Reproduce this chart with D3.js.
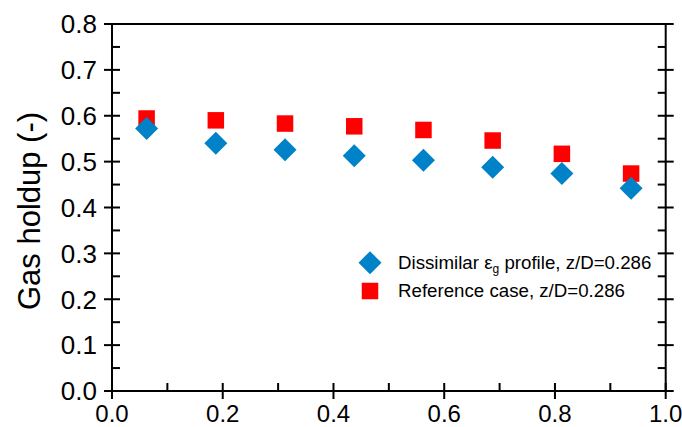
<!DOCTYPE html>
<html><head><meta charset="utf-8">
<script src="https://cdn.jsdelivr.net/npm/d3@7"></script>
<style>html,body{margin:0;padding:0;background:#fff;}svg{display:block;font-family:"Liberation Sans",Arial,sans-serif;}</style>
</head><body>
<svg id="c" width="682" height="427"></svg>
<script>
const xPos = [0.0625, 0.1875, 0.3125, 0.4375, 0.5625, 0.6875, 0.8125, 0.9375];
const dissimilar = [0.572, 0.540, 0.526, 0.513, 0.503, 0.488, 0.474, 0.442];
const reference = [0.594, 0.590, 0.583, 0.577, 0.569, 0.546, 0.517, 0.474];
const xTicks = [0.0, 0.2, 0.4, 0.6, 0.8, 1.0];
const xMinor = [0.1, 0.3, 0.5, 0.7, 0.9];
const yTicks = [0.0, 0.1, 0.2, 0.3, 0.4, 0.5, 0.6, 0.7, 0.8];
const yMinor = [0.05, 0.15, 0.25, 0.35, 0.45, 0.55, 0.65, 0.75];

const svg = d3.select("#c");
const L = 112, R = 665.7, T = 24, B = 391;
const x = d3.scaleLinear().domain([0, 1]).range([L, R]);
const y = d3.scaleLinear().domain([0, 0.8]).range([B, T]);
const tk = 8, lw = 2;
const g = svg.append("g").attr("stroke", "#000").attr("stroke-width", lw).attr("fill", "none");

// frame
g.append("rect").attr("x", L).attr("y", T).attr("width", R - L).attr("height", B - T);

// bottom ticks
xTicks.forEach(v => g.append("line").attr("x1", x(v)).attr("x2", x(v)).attr("y1", B - tk).attr("y2", B + tk));
xMinor.forEach(v => g.append("line").attr("x1", x(v)).attr("x2", x(v)).attr("y1", B - tk).attr("y2", B));
// left & right ticks
yTicks.forEach(v => {
  g.append("line").attr("x1", L - tk).attr("x2", L + tk).attr("y1", y(v)).attr("y2", y(v));
  g.append("line").attr("x1", R - tk).attr("x2", R + tk).attr("y1", y(v)).attr("y2", y(v));
});
yMinor.forEach(v => {
  g.append("line").attr("x1", L).attr("x2", L + tk).attr("y1", y(v)).attr("y2", y(v));
  g.append("line").attr("x1", R - tk).attr("x2", R).attr("y1", y(v)).attr("y2", y(v));
});

// tick labels
svg.append("g").selectAll("text").data(yTicks).join("text")
  .attr("x", 97).attr("y", d => y(d)).attr("dy", "0.36em")
  .attr("text-anchor", "end").attr("font-size", 26).attr("fill", "#000")
  .text(d => d.toFixed(1));
svg.append("g").selectAll("text").data(xTicks).join("text")
  .attr("x", d => x(d)).attr("y", 421.5)
  .attr("text-anchor", "middle").attr("font-size", 24).attr("fill", "#000")
  .text(d => d.toFixed(1));

// y axis title
svg.append("text").attr("transform", "translate(40,211) rotate(-90)")
  .attr("text-anchor", "middle").attr("font-size", 31).attr("fill", "#000")
  .text("Gas holdup (-)");

const blue = "#0082C8", red = "#FF0000";
const sq = 16.5, dh = 11.5;
const diamond = (cx, cy) => `M${cx},${cy - dh}L${cx + dh},${cy}L${cx},${cy + dh}L${cx - dh},${cy}Z`;

// reference squares
svg.append("g").selectAll("rect").data(reference).join("rect")
  .attr("x", (d, i) => x(xPos[i]) - sq / 2).attr("y", d => y(d) - sq / 2)
  .attr("width", sq).attr("height", sq).attr("fill", red);
// dissimilar diamonds
svg.append("g").selectAll("path").data(dissimilar).join("path")
  .attr("d", (d, i) => diamond(x(xPos[i]), y(d))).attr("fill", blue);

// legend
svg.append("path").attr("d", diamond(370, 262.7)).attr("fill", blue);
svg.append("rect").attr("x", 370 - sq / 2).attr("y", 291 - sq / 2).attr("width", sq).attr("height", sq).attr("fill", red);
const t1 = svg.append("text").attr("x", 398).attr("y", 268.5).attr("font-size", 18.7).attr("fill", "#000");
t1.append("tspan").text("Dissimilar ε");
t1.append("tspan").attr("font-size", 12).attr("dy", 4).text("g");
t1.append("tspan").attr("dy", -4).text(" profile, z/D=0.286");
svg.append("text").attr("x", 398).attr("y", 297).attr("font-size", 18.7).attr("fill", "#000")
  .text("Reference case, z/D=0.286");
</script>
</body></html>
